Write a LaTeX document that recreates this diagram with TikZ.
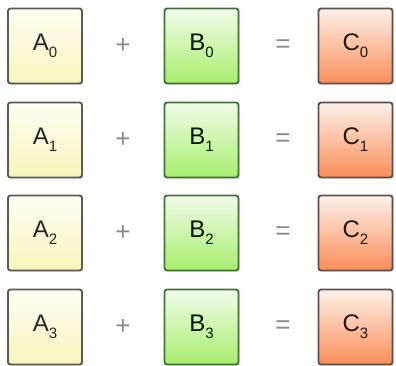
\documentclass[tikz,border=0pt]{standalone}
\usepackage{fontspec}
\setmainfont{Liberation Sans}
\usetikzlibrary{shadows}
\definecolor{aTop}{HTML}{FEFEF4}
\definecolor{aBot}{HTML}{F7F5BC}
\definecolor{aEdge}{HTML}{5C5A52}
\definecolor{bTop}{HTML}{F2FCEA}
\definecolor{bBot}{HTML}{A6EE6C}
\definecolor{bEdge}{HTML}{44703A}
\definecolor{cTop}{HTML}{FDF0EA}
\definecolor{cBot}{HTML}{FA8E58}
\definecolor{cEdge}{HTML}{5E504A}
\definecolor{opGray}{HTML}{8A8A8A}
\newcommand{\cellsub}[2]{#1\raisebox{-7pt}{\fontsize{15}{16}\selectfont #2}}
\tikzset{
  cell/.style={minimum width=74pt, minimum height=75pt, rounded corners=2.5pt,
    line width=1.9pt, inner sep=0pt, font=\fontsize{24}{26}\selectfont,
    drop shadow={shadow xshift=1.2pt, shadow yshift=-1.2pt, opacity=0.25}},
  acell/.style={cell, draw=aEdge, top color=aTop, bottom color=aBot, text=black!85},
  bcell/.style={cell, draw=bEdge, top color=bTop, bottom color=bBot, text=black!85!green!60!black},
  ccell/.style={cell, draw=cEdge, top color=cTop, bottom color=cBot, text=black!80!brown},
  op/.style={text=opGray, font=\fontsize{26}{28}\selectfont}
}
\begin{document}
\begin{tikzpicture}[x=1pt,y=1pt]
\useasboundingbox (0,0) rectangle (396,-366);
\foreach \i/\y in {0/46,1/140,2/233,3/327}{
  \node[acell] (a\i) at (45,-\y) {\cellsub{A}{\i}};
  \node[op] (p\i) at (123,-\y) {+};
  \node[bcell] (b\i) at (201.5,-\y) {\cellsub{B}{\i}};
  \node[op] (e\i) at (283,-\y) {=};
  \node[ccell] (c\i) at (355.5,-\y) {\cellsub{C}{\i}};
}
\end{tikzpicture}
\end{document}
